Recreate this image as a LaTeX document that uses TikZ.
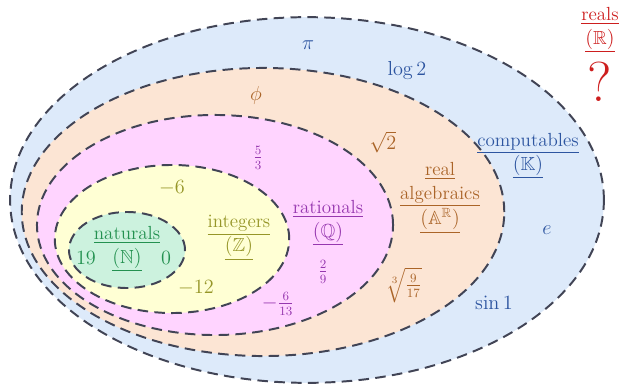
\documentclass[tikz,border=0pt]{standalone}
\usepackage{amsmath,amssymb}
\usetikzlibrary{positioning}
\definecolor{CompFill}{RGB}{221,234,250}
\definecolor{CompText}{RGB}{45,85,160}
\definecolor{AlgFill}{RGB}{252,229,212}
\definecolor{AlgText}{RGB}{170,100,40}
\definecolor{RatFill}{RGB}{255,212,255}
\definecolor{RatText}{RGB}{150,55,175}
\definecolor{IntFill}{RGB}{255,255,212}
\definecolor{IntText}{RGB}{150,150,40}
\definecolor{NatFill}{RGB}{204,242,222}
\definecolor{NatText}{RGB}{35,145,80}
\definecolor{RealText}{RGB}{205,30,30}
\definecolor{EdgeGray}{RGB}{65,68,85}
\tikzset{
  setline/.style={draw=EdgeGray,line width=1.4pt,dash pattern=on 7.5pt off 4.5pt},
  setlabel/.style={align=center,inner sep=1pt,font=\fontsize{13.5}{17}\selectfont},
  member/.style={inner sep=1pt,font=\fontsize{13.5}{16}\selectfont}
}

\begin{document}
\begin{tikzpicture}[x=0.025cm,y=-0.025cm]
\useasboundingbox (0,0) rectangle (622,387);
% the nested sets
\filldraw[setline,fill=CompFill](307,200) ellipse [x radius=7.42cm,y radius=4.57cm];
\filldraw[setline,fill=AlgFill](263,212) ellipse [x radius=6.03cm,y radius=3.6cm];
\filldraw[setline,fill=RatFill](215,225) ellipse [x radius=4.45cm,y radius=2.75cm];
\filldraw[setline,fill=IntFill](172,239) ellipse [x radius=2.93cm,y radius=1.85cm];
\filldraw[setline,fill=NatFill](127,250) ellipse [x radius=1.45cm,y radius=0.95cm];
% set names
\node[setlabel,text=RealText](reals) at (600,30){\underline{reals}\\\underline{$(\mathbb{R})$}};
\node[text=RealText,font=\fontsize{40}{42}\selectfont,inner sep=0pt](what) at (600,82){?};
\node[setlabel,text=CompText](comp) at (528,156){\underline{computables}\\\underline{$(\mathbb{K})$}};
\node[setlabel,text=AlgText](alg) at (440,198){\underline{real}\\\underline{algebraics}\\\underline{$(\mathbb{A}^{\mathbb{R}})$}};
\node[setlabel,text=RatText](rat) at (328,223){\underline{rationals}\\\underline{$(\mathbb{Q})$}};
\node[setlabel,text=IntText](int) at (239,238){\underline{integers}\\\underline{$(\mathbb{Z})$}};
\node[setlabel,text=NatText](nat) at (127,249){\underline{naturals}\\\underline{$(\mathbb{N})$}};
% members
\node[member,text=CompText](pi) at (308,45){$\pi$};
\node[member,text=CompText](log) at (407,70){$\log 2$};
\node[member,text=CompText](e) at (547,230){$e$};
\node[member,text=CompText](sin) at (494,303){$\sin 1$};
\node[member,text=AlgText](phi) at (256,95){$\phi$};
\node[member,text=AlgText](sqrt) at (383,142){$\sqrt{2}$};
\node[member,text=AlgText](cbrt) at (404,285){$\sqrt[3]{\tfrac{9}{17}}$};
\node[member,text=RatText](five) at (258,158){$\tfrac{5}{3}$};
\node[member,text=RatText](two) at (323,272){$\tfrac{2}{9}$};
\node[member,text=RatText](six) at (278,304){$-\tfrac{6}{13}$};
\node[member,text=IntText](m6) at (172,188){$-6$};
\node[member,text=IntText](m12) at (196,288){$-12$};
\node[member,text=NatText](n19) at (86,258){$19$};
\node[member,text=NatText](n0) at (166,258){$0$};
\end{tikzpicture}
\end{document}
